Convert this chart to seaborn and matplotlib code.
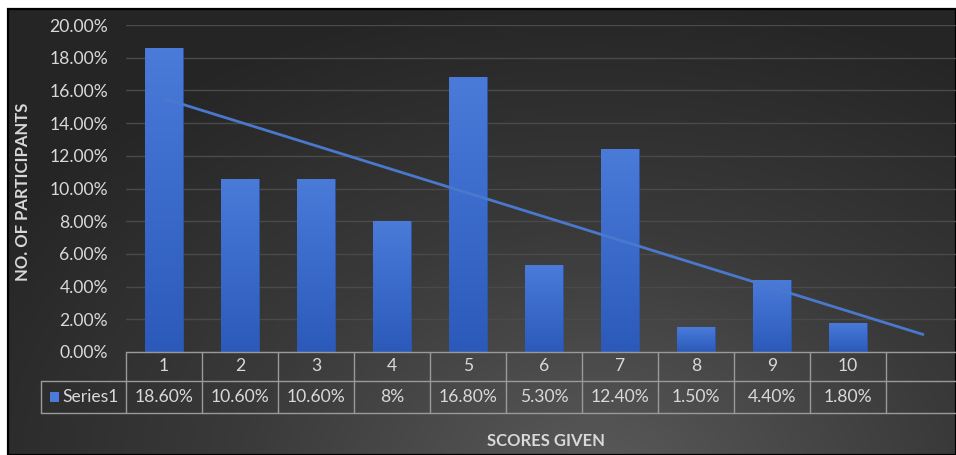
import numpy as np
import pandas as pd
import matplotlib
matplotlib.use("Agg")
import matplotlib.pyplot as plt
import matplotlib.transforms as mtrans
from matplotlib.patches import Rectangle
from matplotlib.colors import LinearSegmentedColormap
import seaborn as sns

# ---------------- data ----------------
scores = ["1", "2", "3", "4", "5", "6", "7", "8", "9", "10"]
shares = [18.6, 10.6, 10.6, 8.0, 16.8, 5.3, 12.4, 1.5, 4.4, 1.8]
share_labels = ["18.60%", "10.60%", "10.60%", "8%", "16.80%", "5.30%",
                "12.40%", "1.50%", "4.40%", "1.80%"]
series_name = "Series1"
y_ticks = [0, 2, 4, 6, 8, 10, 12, 14, 16, 18, 20]
x_title = "SCORES GIVEN"
y_title = "NO. OF PARTICIPANTS"

# ---------------- style ----------------
sns.set_theme(style="dark")
plt.rcParams["font.family"] = ["Lato", "DejaVu Sans"]
TXT = "#d9d9d9"
GRID = "#4a4a4a"
TABLE_LINE = "#9a9a9a"
BLUE = "#4472c4"
FS = 12.6

W, H = 956, 455
fig = plt.figure(figsize=(W / 100, H / 100), dpi=100, facecolor="white")

# dark radial-gradient background with black frame
bg = fig.add_axes([8 / W, 0, 1 - 8 / W, (H - 9) / H])
bg.set_axis_off()
gy, gx = np.mgrid[0:1:300j, 0:1:600j]
r = np.sqrt(((gx - 0.62) / 0.75) ** 2 + ((gy - 1.05) / 1.1) ** 2)
r = np.clip(r, 0, 1)
bg_cmap = LinearSegmentedColormap.from_list("bg", ["#5a5a5a", "#3a3a3a", "#252525"])
bg.imshow(r, cmap=bg_cmap, aspect="auto", extent=[0, 1, 1, 0], vmin=0, vmax=1)
bg.set_xlim(0, 1)
bg.set_ylim(1, 0)
bg.add_patch(Rectangle((0, 0), 1, 1, transform=bg.transAxes, fill=False,
                       edgecolor="black", lw=1.6, clip_on=False))

# plot area (11 category slots, last one empty)
ax_left, ax_right, ax_top, ax_bot = 126, 962, 25, 352
ax = fig.add_axes([ax_left / W, (H - ax_bot) / H,
                   (ax_right - ax_left) / W, (ax_bot - ax_top) / H])
ax.set_facecolor("none")

order = scores + [" "]
df = pd.DataFrame({"score": scores, "share": shares})
sns.barplot(data=df, x="score", y="share", order=order, color=BLUE,
            width=0.5, ax=ax, zorder=2, edgecolor="#2c55a8", linewidth=0.6)

# vertical gradient on bars
bar_cmap = LinearSegmentedColormap.from_list("bar", ["#2b5abb", "#4a7bd9"])
grad = np.linspace(0, 1, 100).reshape(-1, 1)
for p in list(ax.patches):
    x0, y0 = p.get_x(), p.get_y()
    w, h = p.get_width(), p.get_height()
    if not np.isfinite(h) or h <= 0:
        continue
    im = ax.imshow(grad, cmap=bar_cmap, aspect="auto", origin="lower",
                   extent=[x0, x0 + w, y0, y0 + h], zorder=2.5)
    im.set_clip_path(p)

# linear trendline (fitted on the data, extended to the 11th slot)
xi = np.arange(1, len(shares) + 1)
coef = np.polyfit(xi, shares, 1)
xt = np.arange(1, len(order) + 1)
ax.plot(xt - 1, np.polyval(coef, xt), color="#4a78cc", lw=2, zorder=3,
        solid_capstyle="butt")

ax.set_xlim(-0.5, len(order) - 0.5)
ax.set_ylim(0, 20)
ax.set_yticks(y_ticks)
ax.set_yticklabels([f"{v:.2f}%" for v in y_ticks], color=TXT, fontsize=FS)
ax.tick_params(axis="y", length=0, pad=13)
ax.set_xticks([])
ax.set_xlabel("")
ax.set_ylabel("")
ax.grid(axis="y", color=GRID, lw=1, zorder=0)
ax.grid(axis="x", visible=False)
for s in ax.spines.values():
    s.set_visible(False)

# ---------------- data table ----------------
ph = ax_bot - ax_top
colw = (ax_right - ax_left) / len(order)


def yf(py):
    return (ax_bot - py) / ph


def xd(px):
    return -0.5 + (px - ax_left) / colw


tr = mtrans.blended_transform_factory(ax.transData, ax.transAxes)
n = len(order)
row1_bot, row2_bot = 381, 413
lab_left = 41
kw = dict(color=TABLE_LINE, lw=1, transform=tr, clip_on=False, zorder=4)
# horizontal lines
ax.plot([-0.5, n - 0.5], [yf(ax_bot)] * 2, **kw)
ax.plot([xd(lab_left), n - 0.5], [yf(row1_bot)] * 2, **kw)
ax.plot([xd(lab_left), n - 0.5], [yf(row2_bot)] * 2, **kw)
# vertical lines
for k in range(n + 1):
    ax.plot([k - 0.5, k - 0.5], [yf(ax_bot), yf(row2_bot)], **kw)
ax.plot([xd(lab_left)] * 2, [yf(row1_bot), yf(row2_bot)], **kw)

for k, (s, lab) in enumerate(zip(scores, share_labels)):
    ax.text(k, yf(366), s, transform=tr, ha="center", va="center",
            color=TXT, fontsize=FS)
    ax.text(k, yf(397.5), lab, transform=tr, ha="center", va="center",
            color=TXT, fontsize=FS)

# legend key + series name
ax.add_patch(Rectangle((xd(50), yf(402)), xd(59) - xd(50), yf(392) - yf(402),
                       transform=tr, facecolor="#4a7bd9", edgecolor="none",
                       clip_on=False, zorder=4))
ax.text(xd(62), yf(397.5), series_name, transform=tr, ha="left", va="center",
        color=TXT, fontsize=FS)

# axis titles
fig.text(23 / W, 1 - 192 / H, y_title, rotation=90, ha="center", va="center",
         color=TXT, fontsize=12, fontweight="bold")
fig.text(546 / W, 1 - 441 / H, x_title, ha="center", va="center",
         color=TXT, fontsize=12, fontweight="bold")

fig.savefig("out.png", dpi=100, facecolor="white")
